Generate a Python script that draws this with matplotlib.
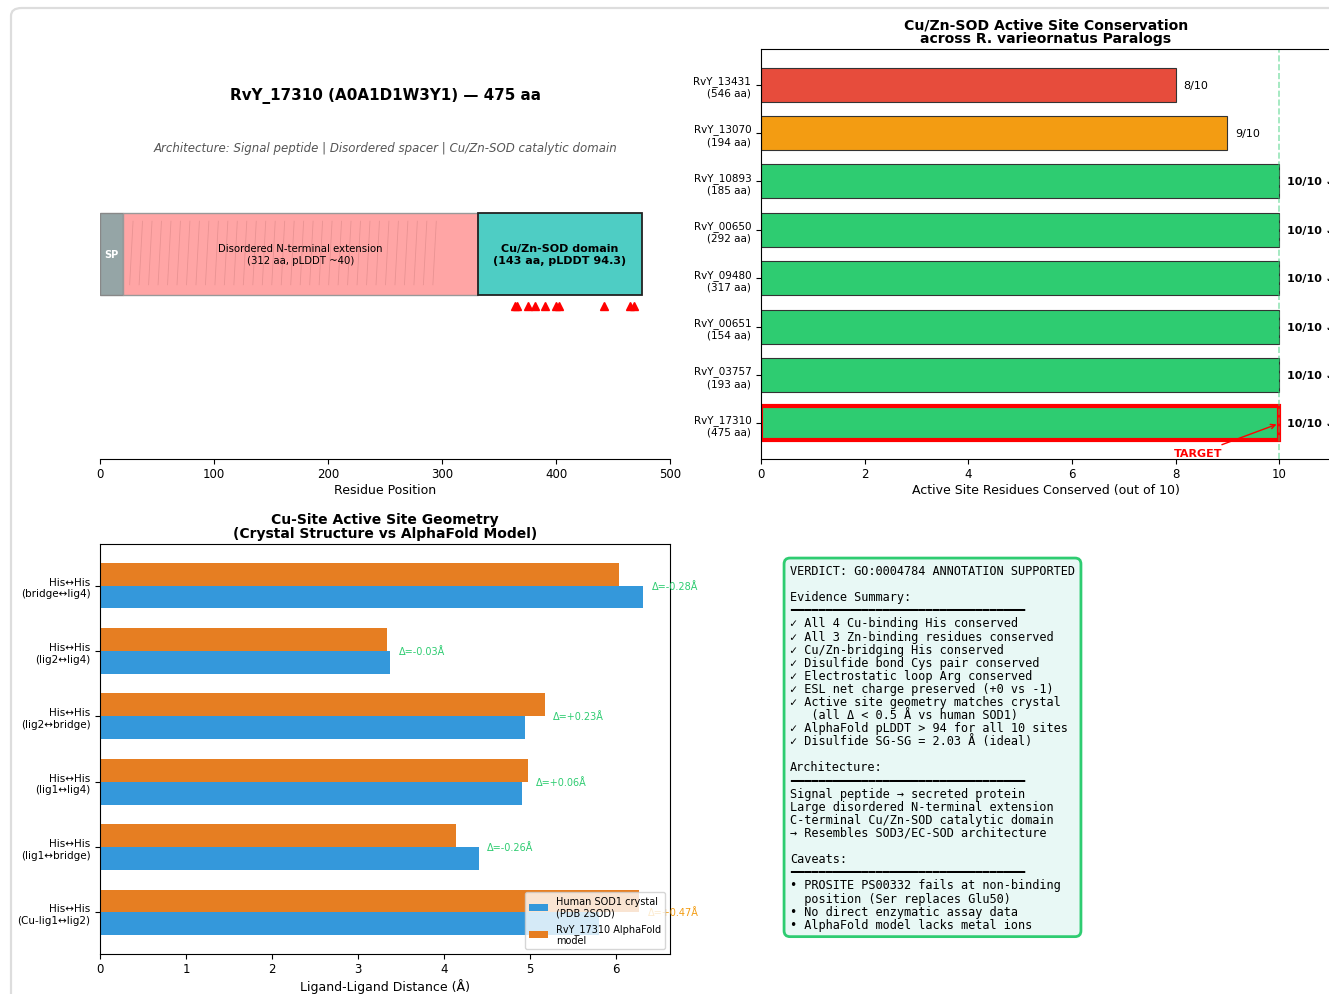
import matplotlib
matplotlib.use("Agg")
import matplotlib.pyplot as plt
from matplotlib.patches import Rectangle, FancyBboxPatch
import numpy as np

# ---------------- data ----------------
protein_len = 475
sp_end = 20
dis_end = 332
active_sites = [364, 366, 375, 382, 390, 400, 403, 442, 465, 468]

paralog_names = ["RvY_13431\n(546 aa)", "RvY_13070\n(194 aa)", "RvY_10893\n(185 aa)",
                 "RvY_00650\n(292 aa)", "RvY_09480\n(317 aa)", "RvY_00651\n(154 aa)",
                 "RvY_03757\n(193 aa)", "RvY_17310\n(475 aa)"]
paralog_conserved = [8, 9, 10, 10, 10, 10, 10, 10]
paralog_colors = ["#e74c3c", "#f39c12", "#2ecc71", "#2ecc71", "#2ecc71", "#2ecc71", "#2ecc71", "#2ecc71"]

geom_labels = ["His↔His\n(Cu-lig1↔lig2)", "His↔His\n(lig1↔bridge)", "His↔His\n(lig1↔lig4)",
               "His↔His\n(lig2↔bridge)", "His↔His\n(lig2↔lig4)", "His↔His\n(bridge↔lig4)"]
crystal_dist = [5.80, 4.40, 4.91, 4.94, 3.37, 6.31]
model_dist = [6.27, 4.14, 4.97, 5.17, 3.34, 6.03]

verdict_text = (
    "VERDICT: GO:0004784 ANNOTATION SUPPORTED\n\n"
    "Evidence Summary:\n"
    + "━" * 33 + "\n"
    "✓ All 4 Cu-binding His conserved\n"
    "✓ All 3 Zn-binding residues conserved\n"
    "✓ Cu/Zn-bridging His conserved\n"
    "✓ Disulfide bond Cys pair conserved\n"
    "✓ Electrostatic loop Arg conserved\n"
    "✓ ESL net charge preserved (+0 vs -1)\n"
    "✓ Active site geometry matches crystal\n"
    "   (all Δ < 0.5 Å vs human SOD1)\n"
    "✓ AlphaFold pLDDT > 94 for all 10 sites\n"
    "✓ Disulfide SG-SG = 2.03 Å (ideal)\n\n"
    "Architecture:\n"
    + "━" * 33 + "\n"
    "Signal peptide → secreted protein\n"
    "Large disordered N-terminal extension\n"
    "C-terminal Cu/Zn-SOD catalytic domain\n"
    "→ Resembles SOD3/EC-SOD architecture\n\n"
    "Caveats:\n"
    + "━" * 33 + "\n"
    "• PROSITE PS00332 fails at non-binding\n"
    "  position (Ser replaces Glu50)\n"
    "• No direct enzymatic assay data\n"
    "• AlphaFold model lacks metal ions"
)

W, H = 1329, 995
fig = plt.figure(figsize=(W / 100, H / 100), dpi=100)

# outer rounded border (notebook-style frame)
frame = FancyBboxPatch((11 / W, -0.05), 1.2, (995 - 9) / H + 0.05,
                       boxstyle="round,pad=0,rounding_size=0.008",
                       transform=fig.transFigure, facecolor="none",
                       edgecolor="#dddddd", linewidth=1.6)
fig.patches.append(frame)

def ax_px(x0, y0, x1, y1):
    return fig.add_axes([x0 / W, (H - y1) / H, (x1 - x0) / W, (y1 - y0) / H])

# ---------------- panel 1: domain architecture ----------------
ax1 = ax_px(100, 50, 670, 460)
ax1.set_xlim(0, 500)
ax1.set_ylim(0, 10)
for s in ["top", "left", "right"]:
    ax1.spines[s].set_visible(False)
ax1.set_yticks([])
ax1.tick_params(axis="x", labelsize=8.5, length=3.5, pad=2.5)
ax1.set_xlabel("Residue Position", fontsize=9, labelpad=2)

ax1.add_patch(Rectangle((0, 4.0), sp_end, 2.0, facecolor="#95a5a6", edgecolor="#888888", lw=1))
ax1.text(sp_end / 2, 5.0, "SP", ha="center", va="center", color="white", fontsize=7, fontweight="bold")
ax1.add_patch(Rectangle((sp_end, 4.0), dis_end - sp_end, 2.0, facecolor="#ffa5a5",
                        edgecolor="#999999", lw=1))
for hx in np.linspace(sp_end + 6, dis_end - 40, 33):
    ax1.plot([hx, hx + 3], [4.25, 5.8], color="#c07070", lw=0.6, alpha=0.35)
ax1.text((sp_end + dis_end) / 2, 5.0, "Disordered N-terminal extension\n(312 aa, pLDDT ~40)",
         ha="center", va="center", fontsize=7.3)
ax1.add_patch(Rectangle((dis_end, 4.0), protein_len - dis_end, 2.0, facecolor="#4ecdc4",
                        edgecolor="#222222", lw=1.3))
ax1.text((dis_end + protein_len) / 2, 5.0, "Cu/Zn-SOD domain\n(143 aa, pLDDT 94.3)",
         ha="center", va="center", fontsize=8, fontweight="bold")
ax1.plot(active_sites, [3.72] * len(active_sites), "^", color="red", markersize=6, ls="none")
ax1.text(250, 8.88, "RvY_17310 (A0A1D1W3Y1) — 475 aa", ha="center", va="center",
         fontsize=10.9, fontweight="bold")
ax1.text(250, 7.59, "Architecture: Signal peptide | Disordered spacer | Cu/Zn-SOD catalytic domain",
         ha="center", va="center", fontsize=8.5, style="italic", color="#555555")

# ---------------- panel 2: paralog conservation ----------------
ax2 = ax_px(761, 50, 1331, 460)
n = len(paralog_names)
ypos = np.arange(n)[::-1]
bars = ax2.barh(ypos, paralog_conserved, height=0.7, color=paralog_colors,
                edgecolor="#333333", linewidth=0.8)
bars[-1].set_edgecolor("red")
bars[-1].set_linewidth(3)
ax2.set_yticks(ypos)
ax2.set_yticklabels(paralog_names, fontsize=7.5)
ax2.set_xlim(0, 11)
ax2.axvline(10, color="#2ecc71", ls="--", alpha=0.5, lw=1.2)
for y, v in zip(ypos, paralog_conserved):
    if v == 10:
        ax2.text(v + 0.15, y, "10/10 ✓", va="center", ha="left", fontsize=8, fontweight="bold")
    else:
        ax2.text(v + 0.15, y, f"{v}/10", va="center", ha="left", fontsize=8)
ax2.annotate("TARGET", xy=(10, ypos[-1]), xytext=(8.44, ypos[-1] - 0.62),
             ha="center", va="center", color="red", fontsize=8, fontweight="bold",
             arrowprops=dict(arrowstyle="->", color="red", lw=1))
ax2.set_xlabel("Active Site Residues Conserved (out of 10)", fontsize=9, labelpad=2)
ax2.set_title("Cu/Zn-SOD Active Site Conservation\nacross R. varieornatus Paralogs",
              fontsize=10.1, fontweight="bold", linespacing=1.0, pad=5)
ax2.tick_params(axis="x", labelsize=8.5, length=3.5, pad=2.5)
ax2.tick_params(axis="y", labelsize=7.5)

# ---------------- panel 3: geometry ----------------
ax3 = ax_px(100, 545, 670, 955)
gy = np.arange(len(geom_labels))
hb = 0.35
ax3.barh(gy - hb / 2, crystal_dist, height=hb, color="#3498db",
         label="Human SOD1 crystal\n(PDB 2SOD)")
ax3.barh(gy + hb / 2, model_dist, height=hb, color="#e67e22",
         label="RvY_17310 AlphaFold\nmodel")
ax3.set_yticks(gy)
ax3.set_yticklabels(geom_labels, fontsize=7.5)
for y, c, m in zip(gy, crystal_dist, model_dist):
    d = m - c
    col = "#2ecc71" if abs(d) < 0.3 else "#f39c12"
    ax3.text(max(c, m) + 0.1, y, f"Δ={d:+.2f}Å", va="center", ha="left", fontsize=7, color=col)
ax3.set_xlabel("Ligand-Ligand Distance (Å)", fontsize=9, labelpad=2)
ax3.set_title("Cu-Site Active Site Geometry\n(Crystal Structure vs AlphaFold Model)",
              fontsize=10, fontweight="bold", linespacing=1.0, pad=5)
ax3.tick_params(axis="x", labelsize=8.5, length=3.5, pad=2.5)
ax3.legend(loc="lower right", fontsize=7, framealpha=0.8)

# ---------------- panel 4: verdict text ----------------
fig.text(790 / W, 1 - 565 / H, verdict_text, ha="left", va="top",
         family=["DejaVu Sans Mono", "DejaVu Sans"], fontsize=8.55, linespacing=1.01,
         bbox=dict(boxstyle="round,pad=0.5", facecolor="#e8f8f5", edgecolor="#2ecc71", lw=2))

fig.savefig("out.png", dpi=100)
